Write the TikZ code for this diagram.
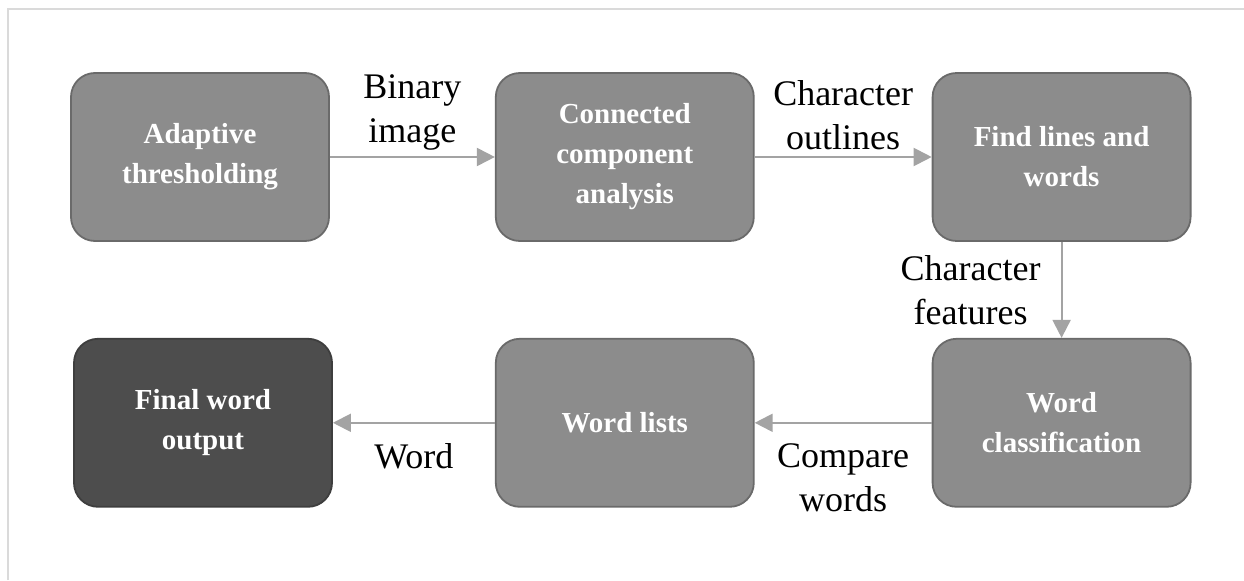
\documentclass[tikz,border=0pt]{standalone}
\usepackage{fontspec}
\setmainfont{Liberation Serif}
\usetikzlibrary{positioning, arrows.meta}

\definecolor{boxfill}{HTML}{8C8C8C}
\definecolor{boxline}{HTML}{6A6A6A}
\definecolor{endfill}{HTML}{4D4D4D}
\definecolor{arrowgrey}{HTML}{A3A3A3}
\definecolor{framegrey}{HTML}{DADADA}

\begin{document}
\begin{tikzpicture}[font=\fontsize{18}{22}\selectfont, >={Triangle[length=9pt, width=9pt]},
  stage/.style={draw=boxline, line width=0.9pt, fill=boxfill, rounded corners=12pt,
    minimum width=129pt, minimum height=84pt, align=center, text=white,
    font=\fontsize{14.5}{20}\selectfont\bfseries},
  flow/.style={->, draw=arrowgrey, line width=1pt}]
  \useasboundingbox (0,0) rectangle (622pt,290pt);
  % light frame
  \draw[framegrey, line width=0.6pt] (4pt,0) -- (4pt,285.5pt) -- (622pt,285.5pt);
  % top row
  \node[stage] (thr) at (100pt,211.5pt) {Adaptive\\thresholding};
  \node[stage, right=82.5pt of thr] (cca) {Connected\\component\\analysis};
  \node[stage, right=88.5pt of cca] (find) {Find lines and\\words};
  % bottom row
  \node[stage, below=48pt of find] (cls) {Word\\classification};
  \node[stage, below=48pt of cca] (lists) {Word lists};
  \node[stage, fill=endfill, draw=endfill!80!black, left=81pt of lists] (final) {Final word\\output};
  % connectors
  \draw[flow] (thr) -- node[above, align=center, inner sep=3pt]{Binary\\image} (cca);
  \draw[flow] (cca) -- node[above, align=center, inner sep=3pt]{Character\\outlines} (find);
  \draw[flow] (find) -- node[left, align=center, inner sep=10pt]{Character\\features} (cls);
  \draw[flow] (cls) -- node[below, align=center, inner sep=10pt]{Compare\\words} (lists);
  \draw[flow] (lists) -- node[below, align=center, inner sep=10pt]{Word} (final);
\end{tikzpicture}
\end{document}
